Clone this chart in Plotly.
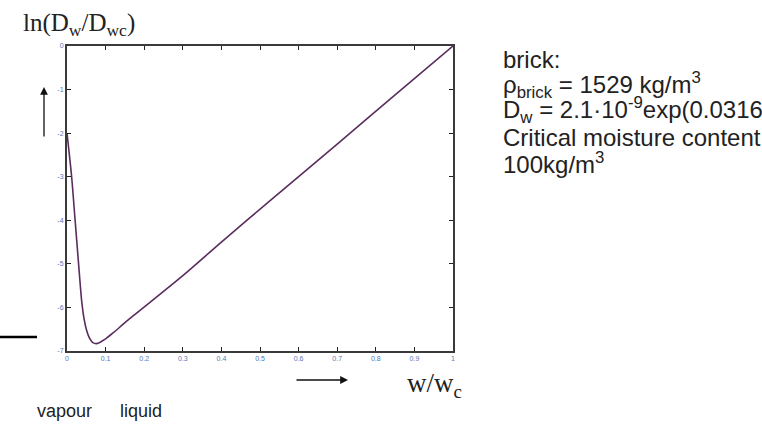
import plotly.graph_objects as go

# data
w_ratio = [0, 0.012, 0.021, 0.03, 0.038, 0.044, 0.05, 0.058, 0.066, 0.077, 0.1, 0.12,
           0.15, 0.172, 0.3, 0.4, 0.53, 0.7, 0.85, 1.0]
ln_d = [-2.0, -3.0, -4.0, -5.0, -5.85, -6.25, -6.5, -6.7, -6.8, -6.83, -6.72, -6.58,
        -6.35, -6.19, -5.27, -4.5, -3.52, -2.25, -1.12, 0.0]
x_ticks = [0, 0.1, 0.2, 0.3, 0.4, 0.5, 0.6, 0.7, 0.8, 0.9, 1]
x_tick_labels = ["0", "0.1", "0.2", "0.3", "0.4", "0.5", "0.6", "0.7", "0.8", "0.9", "1"]
y_ticks = [0, -1, -2, -3, -4, -5, -6, -7]
y_tick_labels = ["0", "-1", "-2", "-3", "-4", "-5", "-6", "-7"]

info_lines = [
    "brick:",
    "ρ<sub>brick</sub> = 1529 kg/m<sup>3</sup>",
    "D<sub>w</sub> = 2.1·10<sup>-9</sup>exp(0.0316",
    "Critical moisture content",
    "100kg/m<sup>3</sup>",
]

W, H = 762, 425
L, R, T, B = 67, 453, 46, 351
pw, ph = R - L, B - T

def px(x):
    return (x - L) / pw

def py(y):
    return (B - y) / ph

fig = go.Figure()
fig.add_trace(go.Scatter(x=w_ratio, y=ln_d, mode="lines",
                         line=dict(color="#5b2c5e", width=1.6, shape="spline", smoothing=0.8),
                         showlegend=False, hoverinfo="skip"))

axis_common = dict(showline=True, mirror="ticks", linecolor="#3a3a3a", linewidth=2,
                   ticks="inside", ticklen=4, tickwidth=1.2, tickcolor="#222",
                   showgrid=False, zeroline=False,
                   tickfont=dict(family="Liberation Sans", size=7, color="#5577bb"))

fig.update_xaxes(range=[0, 1], tickvals=x_ticks, ticktext=x_tick_labels, **axis_common)
fig.update_yaxes(range=[-7, 0], tickvals=y_ticks, ticktext=y_tick_labels, **axis_common)

annotations = []
annotations.append(dict(text="ln(D<sub>w</sub>/D<sub>wc</sub>)", xref="paper", yref="paper",
                        x=px(21), y=py(24), xanchor="left", yanchor="middle", showarrow=False,
                        font=dict(family="Liberation Serif", size=25, color="#222")))
annotations.append(dict(text="w/w<sub>c</sub>", xref="paper", yref="paper",
                        x=px(405), y=py(385), xanchor="left", yanchor="middle", showarrow=False,
                        font=dict(family="Liberation Serif", size=27, color="#222")))
annotations.append(dict(text="vapour", xref="paper", yref="paper",
                        x=px(35), y=py(411), xanchor="left", yanchor="middle", showarrow=False,
                        font=dict(family="Liberation Sans", size=18, color="#222")))
annotations.append(dict(text="liquid", xref="paper", yref="paper",
                        x=px(118), y=py(411), xanchor="left", yanchor="middle", showarrow=False,
                        font=dict(family="Liberation Sans", size=18, color="#222")))
line_y = [60, 85, 110, 137, 163]
for txt, yy in zip(info_lines, line_y):
    annotations.append(dict(text=txt, xref="paper", yref="paper",
                            x=px(501), y=py(yy), xanchor="left", yanchor="middle", showarrow=False,
                            font=dict(family="Liberation Sans", size=24, color="#222")))
# arrows
annotations.append(dict(text="", xref="paper", yref="paper", x=px(44), y=py(87),
                        ax=0, ay=51, showarrow=True, arrowhead=2, arrowsize=1.2,
                        arrowwidth=1.3, arrowcolor="#111"))
annotations.append(dict(text="", xref="paper", yref="paper", x=px(348), y=py(380),
                        ax=-53, ay=0, showarrow=True, arrowhead=2, arrowsize=1.2,
                        arrowwidth=1.3, arrowcolor="#111"))

fig.add_shape(type="line", xref="paper", yref="paper", x0=px(0), x1=px(37),
              y0=py(337), y1=py(337), line=dict(color="#000", width=2.5))

fig.update_layout(width=W, height=H, margin=dict(l=L, r=W - R, t=T, b=H - B),
                  plot_bgcolor="white", paper_bgcolor="white",
                  annotations=annotations)

fig.write_html("out.html", config={"displayModeBar": False},
               post_script="document.body.style.margin='0px';")
